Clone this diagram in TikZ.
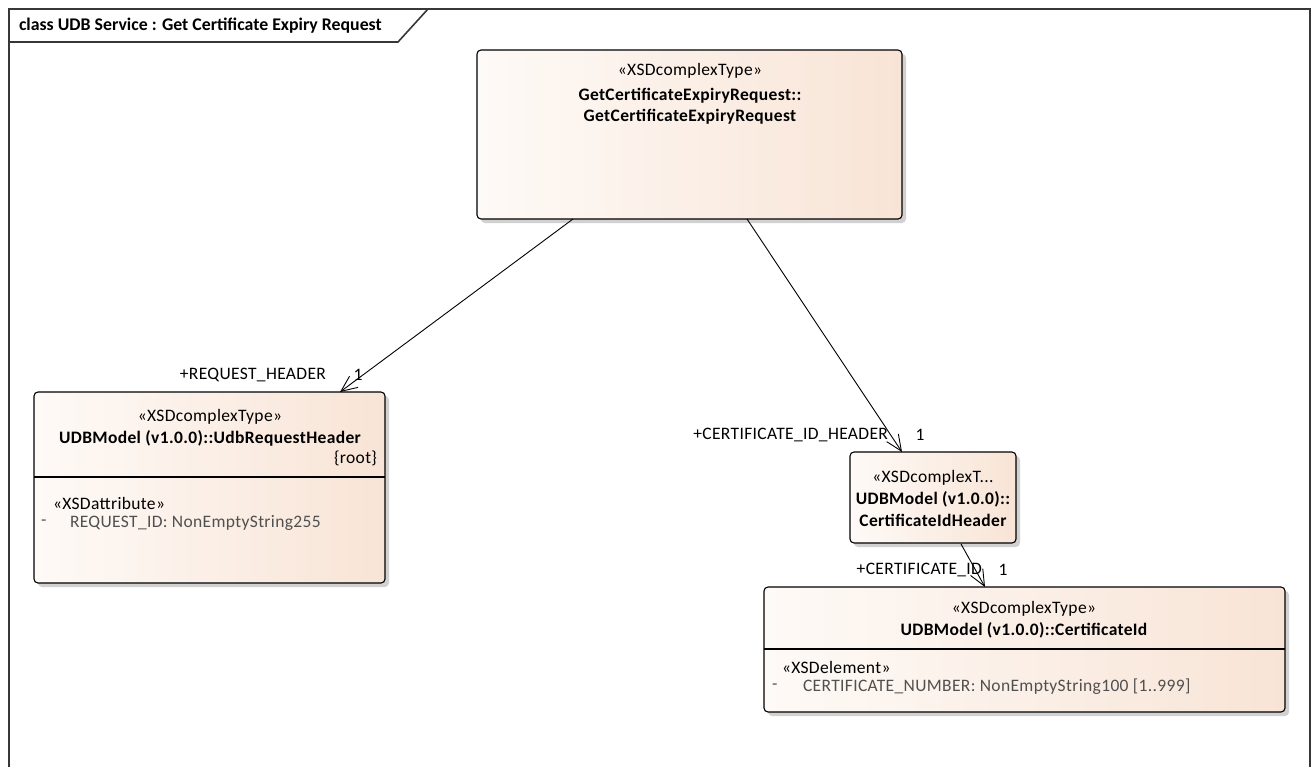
\documentclass[tikz,border=0pt]{standalone}
\usepackage{fontspec}
\setmainfont{Carlito}[LetterSpace=2]
\usetikzlibrary{arrows.meta,calc,shadows}
\definecolor{gl}{RGB}{254,250,247}
\definecolor{gr}{RGB}{248,228,214}
\definecolor{attr}{RGB}{80,80,80}
\definecolor{framec}{RGB}{55,55,55}
\begin{document}
\begin{tikzpicture}[x=1pt,y=-1pt,
  every node/.style={inner sep=0pt, outer sep=0pt},
  txt/.style={font=\fontsize{17.5}{20}\selectfont},
  bold/.style={font=\fontsize{17.5}{20}\selectfont\bfseries},
  atxt/.style={font=\fontsize{17.5}{20}\selectfont, text=attr},
  cls/.style={draw=black, line width=1.1pt, rounded corners=4pt, left color=gl, right color=gr,
    drop shadow={shadow xshift=4pt, shadow yshift=-4pt, fill=black!18, opacity=1}},
  divider/.style={draw=black, line width=1.1pt},
  assoc/.style={draw=black, line width=0.9pt, -{Straight Barb[length=16pt,width=14pt,line width=0.9pt]}},
  framel/.style={draw=framec, line width=1.6pt}
]
\useasboundingbox (0,0) rectangle (1311,766);
% frame
\draw[framel] (9,770) -- (9,9) -- (1310,9) -- (1310,770);
\draw[framel] (9,42) -- (398,42) -- (428,9);
\node[font=\fontsize{17.8}{20}\selectfont\bfseries\addfontfeature{LetterSpace=0}, anchor=west] (title) at (19,26) {class UDB Service : Get Certificate Expiry Request};

% top class
\node[cls, minimum width=425pt, minimum height=169pt, anchor=north west] (req) at (477,50) {};
\node[txt] (req-st) at (690,71) {«XSDcomplexType»};
\node[bold] (req-n1) at (690,96) {GetCertificateExpiryRequest::};
\node[bold] (req-n2) at (690,117) {GetCertificateExpiryRequest};

% UdbRequestHeader
\node[cls, minimum width=351pt, minimum height=191pt, anchor=north west] (hdr) at (34,392) {};
\draw[divider] (34,477) -- (385,477);
\node[txt] (hdr-st) at (210,417) {«XSDcomplexType»};
\node[bold] (hdr-n) at (210,438) {UDBModel (v1.0.0)::UdbRequestHeader};
\node[txt, anchor=east] (hdr-root) at (377,458) {\{root\}};
\node[txt, anchor=west] (hdr-as) at (53,503) {«XSDattribute»};
\node[atxt, anchor=west] (hdr-dash) at (41,523) {-};
\node[atxt, anchor=west] (hdr-a1) at (70,523) {REQUEST\_ID: NonEmptyString255};

% CertificateIdHeader
\node[cls, minimum width=166pt, minimum height=91pt, anchor=north west] (cih) at (850,452) {};
\node[txt] (cih-st) at (933,478) {«XSDcomplexT...};
\node[bold] (cih-n1) at (933,499) {UDBModel (v1.0.0)::};
\node[bold] (cih-n2) at (933,520) {CertificateIdHeader};

% CertificateId
\node[cls, minimum width=521pt, minimum height=125pt, anchor=north west] (cid) at (764,587) {};
\draw[divider] (764,649) -- (1285,649);
\node[txt] (cid-st) at (1024,609) {«XSDcomplexType»};
\node[bold] (cid-n) at (1024,630) {UDBModel (v1.0.0)::CertificateId};
\node[txt, anchor=west] (cid-es) at (782,667) {«XSDelement»};
\node[atxt, anchor=west] (cid-dash) at (772,687) {-};
\node[atxt, anchor=west] (cid-a1) at (803,687) {CERTIFICATE\_NUMBER: NonEmptyString100 [1..999]};

% connector endpoints
\coordinate (s1) at (573,219);
\coordinate (e1) at (340,392);
\coordinate (s2) at (747,219);
\coordinate (e2) at (902,452);
\coordinate (s3) at (961,544);
\coordinate (e3) at (985,587);
\draw[assoc] (s1) -- (e1);
\draw[assoc] (s2) -- (e2);
\draw[assoc] (s3) -- (e3);

% role labels
\node[txt, anchor=east] (l1) at (326,375) {+REQUEST\_HEADER};
\node[txt] (m1) at (358,375) {1};
\node[txt, anchor=east] (l2) at (888,435) {+CERTIFICATE\_ID\_HEADER};
\node[txt] (m2) at (920,435) {1};
\node[txt, anchor=east] (l3) at (982,570) {+CERTIFICATE\_ID};
\node[txt] (m3) at (1003,570) {1};
\end{tikzpicture}
\end{document}
